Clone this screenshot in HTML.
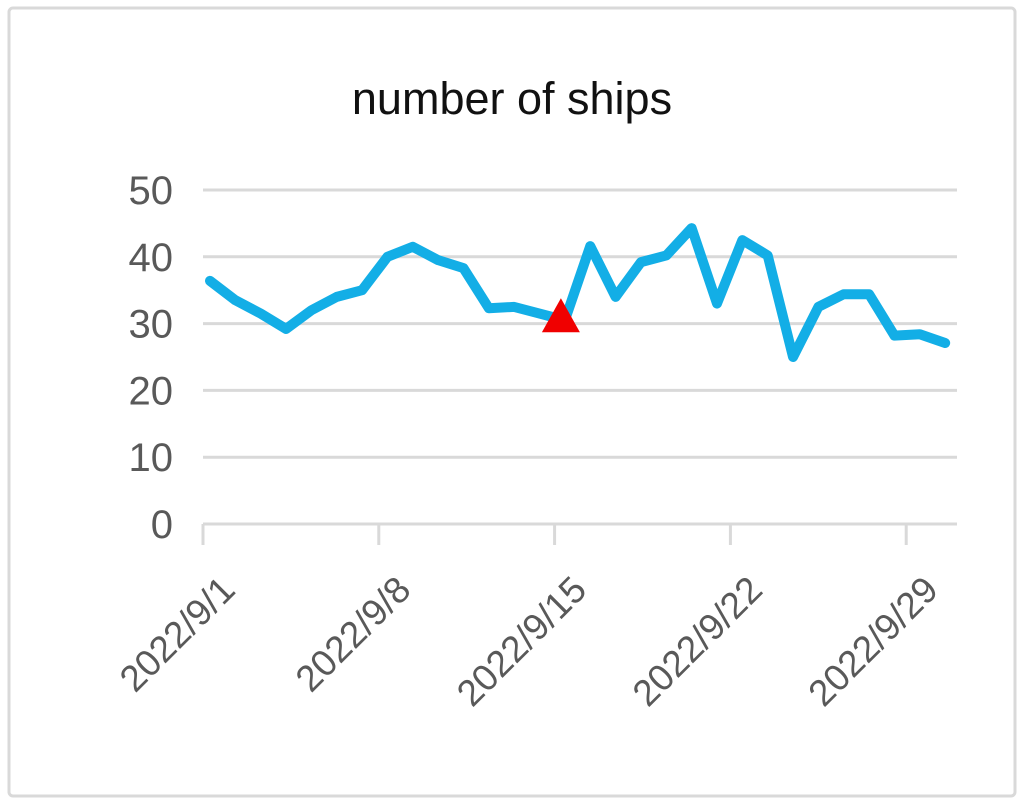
<!DOCTYPE html>
<html><head><meta charset="utf-8"><style>
body{margin:0;background:#fff;font-family:"Liberation Sans",sans-serif;}
</style></head><body>
<svg width="1024" height="804">
<rect x="9" y="8" width="1006" height="788" rx="4" fill="#fff" stroke="#d9d9d9" stroke-width="3"/>
<text x="512" y="114" font-size="45" text-anchor="middle" fill="#111">number of ships</text>
<g id="grid"></g><g id="xaxis"></g><g id="series"></g>
</svg>
<script>
const yTicks=[0,10,20,30,40,50];
const xLabels=["2022/9/1","2022/9/8","2022/9/15","2022/9/22","2022/9/29"];
const values=[36.4,33.5,31.5,29.2,32,34,35,40,41.5,39.5,38.3,32.3,32.5,31.5,30.5,41.6,34,39.2,40.2,44.3,33,42.5,40.2,25,32.5,34.4,34.4,28.2,28.4,27.1];
const markerIndex=14;
const NS="http://www.w3.org/2000/svg";
const y=v=>524-v*6.68;
const x=i=>210+i*25.35;
const xt=k=>203+k*175.8;
function mk(t,a,p){const e=document.createElementNS(NS,t);for(const k in a)e.setAttribute(k,a[k]);p.appendChild(e);return e;}
const g=document.getElementById('grid');
yTicks.forEach(v=>{
 if(v>0){const l=mk('line',{x1:203,x2:957,y1:y(v),y2:y(v),stroke:'#d9d9d9','stroke-width':3},g);
 
 }
 const t=mk('text',{x:173,y:y(v)+14,'font-size':40,'text-anchor':'end',fill:'#595959'},g);t.textContent=v;
 
 
});
const xa=document.getElementById('xaxis');
const ax=mk('line',{x1:203,x2:957,y1:524,y2:524,stroke:'#d9d9d9','stroke-width':3},xa);


xLabels.forEach((s,k)=>{
 const tk=mk('line',{x1:xt(k),x2:xt(k),y1:524,y2:545,stroke:'#d9d9d9','stroke-width':3},xa);
 
 
 const t=mk('text',{x:0,y:0,'font-size':37,'text-anchor':'end',fill:'#595959',transform:`translate(${xt(k)+34},592) rotate(-45)`},xa);t.textContent=s;
 
 
});
const sg=document.getElementById('series');
const pl=mk('polyline',{points:values.map((v,i)=>x(i)+','+y(v)).join(' '),fill:'none',stroke:'#13aee6','stroke-width':10,'stroke-linejoin':'round','stroke-linecap':'round'},sg);


const mx=x(markerIndex)-4,my=y(values[markerIndex]);
const tri=mk('polygon',{points:`${mx},${my-22} ${mx-19},${my+12} ${mx+19},${my+12}`,fill:'#f00000'},sg);


</script>
</body></html>
